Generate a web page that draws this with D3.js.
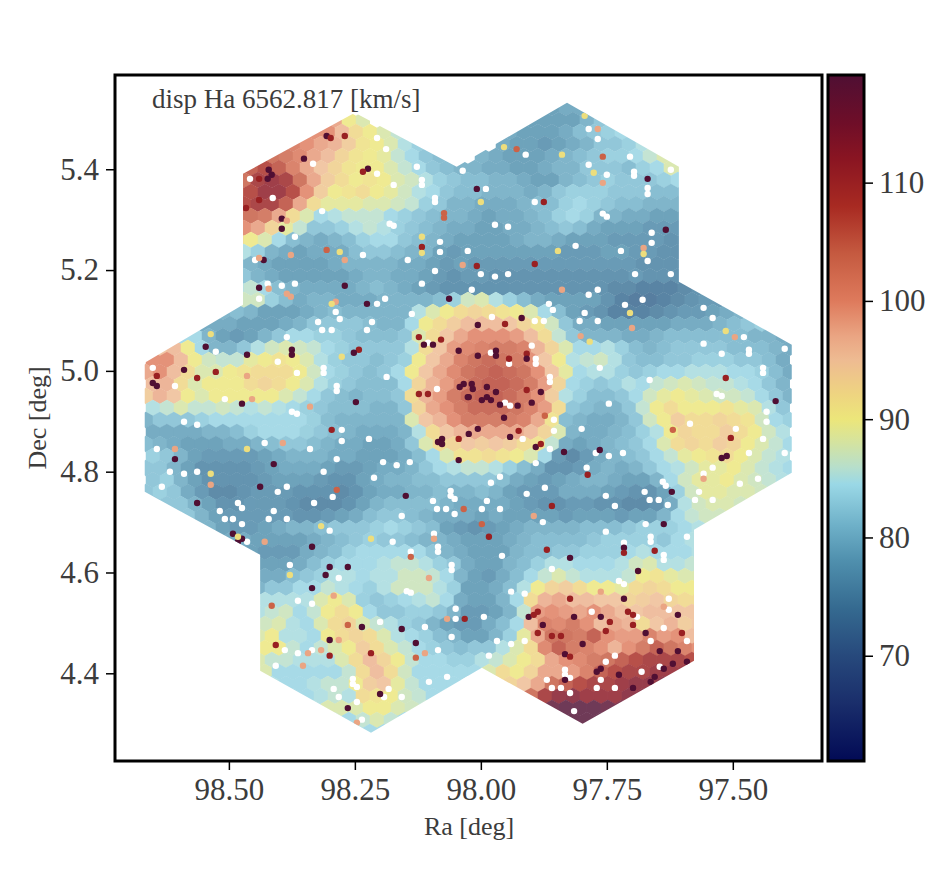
<!DOCTYPE html>
<html lang="en">

<head>
    <meta charset="UTF-8">
    <title>disp Ha 6562.817</title>
    <script src="https://cdn.jsdelivr.net/npm/d3@7"></script>
    <style>
        body { margin: 0; background: #fff; }
        svg { display: block; }
        text { font-family: "Liberation Serif", serif; fill: #3c3c3c; }
    </style>
</head>

<body>
    <script>
        // axis ranges and ticks
        const raDomain = [98.726, 97.323];
        const decDomain = [4.226, 5.587];
        const dispDomain = [61.1, 119.1];
        const raTicks = [98.5, 98.25, 98.0, 97.75, 97.5];
        const decTicks = [4.4, 4.6, 4.8, 5.0, 5.2, 5.4];
        const dispTicks = [70, 80, 90, 100, 110];

        // colour map
        const cmapValues = [61.1, 66, 70, 74, 78, 81, 84.5, 86, 88, 90, 92, 95, 97, 100, 104, 108, 112, 115, 119.1];
        const cmapColors = ["#020a55", "#1a2e6b", "#27497c", "#356a90", "#4f8fad", "#6eb0c8", "#9ad8e6", "#b8dfca", "#d4e3a0", "#ece67a", "#eed580", "#eebb92", "#eaa583", "#de7a5c", "#c55a40", "#a82a22", "#8a1522", "#6f0e28", "#4f0f33"];

        // outline of the seven pointing mosaic
        const footRa = [98.25, 98.472, 98.472, 98.667, 98.667, 98.438, 98.438, 98.218, 97.998, 97.798, 97.577, 97.577, 97.383, 97.383, 97.607, 97.607, 97.829, 98.048];
        const footDec = [5.512, 5.391, 5.131, 5.016, 4.76, 4.635, 4.405, 4.282, 4.411, 4.3, 4.425, 4.685, 4.798, 5.052, 5.177, 5.405, 5.532, 5.405];

        // binned dispersion map, one list per row of the hex grid, north to south (0 = no data)
        const gridRa0 = 98.6647;
        const gridDec0 = 5.5218;
        const gridRaStep = 0.02778;
        const gridDecStep = 0.02381;
        const rowStart = [29, 13, 12, 10, 9, 7, 7, 6, 7, 6, 7, 6, 7, 6, 7, 6, 7, 5, 4, 2, 1, 0, 0, 0, 0, 0, 0, 0, 0, 0, 0, 0, 0, 0, 2, 3, 5, 6, 8, 7, 8, 7, 8, 7, 8, 7, 8, 8, 9, 10, 12, 13, 15];
        const dispRows = [
            [78, 79, 79],
            [98, 90, 88, 0, 0, 0, 0, 0, 0, 0, 0, 0, 0, 0, 78, 78, 78, 78, 80, 82],
            [100, 100, 96, 92, 90, 88, 86, 0, 0, 0, 0, 0, 0, 0, 79, 78, 78, 78, 79, 81, 82, 83, 84],
            [102, 100, 98, 97, 94, 91, 90, 88, 85, 83, 0, 0, 0, 0, 0, 79, 78, 78, 77, 78, 79, 80, 82, 82, 83, 85],
            [104, 103, 101, 98, 96, 93, 91, 90, 89, 86, 84, 82, 81, 0, 0, 80, 79, 78, 78, 78, 79, 80, 81, 82, 83, 83, 84, 86, 88],
            [106, 108, 106, 102, 98, 95, 93, 91, 90, 90, 88, 86, 84, 82, 81, 80, 80, 79, 79, 78, 78, 79, 80, 80, 82, 82, 82, 81, 83, 84, 88, 88],
            [104, 110, 112, 110, 104, 98, 94, 92, 90, 91, 90, 88, 87, 85, 83, 82, 81, 81, 80, 80, 79, 78, 78, 80, 81, 82, 83, 82, 82, 82, 83, 84],
            [106, 108, 112, 112, 108, 100, 94, 90, 91, 92, 90, 89, 87, 85, 84, 82, 81, 81, 80, 80, 80, 79, 80, 82, 83, 83, 83, 82, 82, 82, 81, 81, 81],
            [108, 110, 110, 106, 98, 92, 89, 89, 89, 88, 88, 87, 86, 83, 82, 80, 80, 79, 79, 79, 80, 81, 81, 83, 84, 83, 82, 81, 81, 80, 80, 80],
            [104, 104, 103, 98, 92, 88, 84, 85, 86, 86, 86, 84, 83, 82, 81, 80, 80, 79, 78, 79, 79, 80, 81, 83, 84, 83, 80, 80, 79, 79, 78, 78, 78],
            [100, 98, 93, 89, 86, 82, 82, 83, 85, 86, 85, 83, 82, 81, 80, 79, 79, 78, 78, 79, 79, 80, 81, 82, 81, 79, 78, 78, 78, 77, 77, 77],
            [92, 90, 88, 84, 81, 80, 79, 80, 81, 83, 84, 84, 82, 81, 80, 79, 78, 78, 78, 78, 79, 80, 80, 79, 78, 78, 78, 77, 77, 77, 77, 76, 76],
            [85, 83, 80, 79, 78, 79, 79, 79, 81, 82, 82, 81, 80, 80, 78, 77, 78, 78, 78, 78, 78, 78, 78, 77, 77, 77, 78, 78, 77, 77, 76, 76],
            [81, 80, 79, 78, 78, 78, 78, 79, 80, 80, 80, 80, 79, 79, 78, 77, 78, 77, 77, 77, 77, 77, 77, 77, 77, 77, 77, 77, 77, 76, 76, 76, 76],
            [82, 80, 79, 78, 78, 78, 78, 78, 79, 80, 80, 79, 79, 78, 77, 76, 77, 77, 76, 76, 76, 76, 76, 76, 76, 76, 76, 76, 77, 76, 76, 76],
            [85, 86, 84, 81, 80, 79, 79, 79, 79, 80, 81, 80, 79, 78, 77, 76, 76, 76, 76, 76, 76, 76, 76, 76, 76, 76, 76, 75, 75, 74, 74, 74, 75, 76],
            [87, 87, 83, 81, 79, 80, 80, 79, 79, 79, 80, 80, 80, 80, 81, 83, 87, 88, 85, 83, 81, 79, 78, 78, 78, 78, 76, 74, 73, 73, 74, 75, 76, 77, 77],
            [80, 81, 80, 78, 78, 78, 79, 80, 81, 80, 80, 80, 80, 80, 85, 88, 90, 92, 93, 92, 91, 90, 88, 84, 81, 78, 77, 76, 74, 74, 74, 75, 76, 77, 77, 78, 79, 80],
            [79, 79, 79, 78, 78, 78, 79, 80, 82, 82, 82, 82, 81, 80, 80, 84, 90, 92, 94, 96, 96, 96, 95, 93, 91, 87, 82, 79, 79, 78, 78, 78, 78, 78, 79, 79, 79, 80, 81, 82, 83],
            [84, 84, 80, 78, 77, 78, 80, 82, 84, 84, 83, 83, 82, 81, 81, 81, 82, 88, 92, 95, 98, 100, 100, 100, 99, 96, 92, 86, 82, 80, 80, 80, 79, 79, 80, 81, 81, 81, 81, 81, 81, 80, 80, 79],
            [95, 96, 90, 84, 80, 80, 82, 85, 87, 88, 87, 86, 84, 83, 82, 82, 82, 82, 85, 92, 95, 99, 101, 102, 103, 103, 102, 97, 93, 88, 84, 84, 85, 83, 81, 80, 81, 82, 82, 82, 82, 81, 81, 81, 80, 79],
            [100, 100, 96, 90, 87, 86, 86, 89, 90, 91, 90, 88, 85, 83, 82, 82, 81, 82, 83, 90, 95, 98, 102, 104, 105, 104, 103, 100, 95, 90, 85, 86, 87, 85, 82, 81, 81, 82, 82, 83, 83, 83, 82, 82, 81, 79],
            [98, 100, 96, 92, 88, 88, 90, 91, 92, 92, 92, 90, 87, 84, 83, 82, 81, 82, 84, 90, 95, 98, 101, 104, 105, 106, 105, 104, 100, 95, 89, 84, 85, 85, 83, 82, 83, 84, 84, 85, 85, 85, 84, 84, 83, 81, 79],
            [96, 97, 92, 88, 90, 90, 90, 92, 93, 92, 90, 88, 85, 83, 82, 81, 81, 81, 84, 93, 97, 99, 102, 105, 106, 106, 105, 103, 99, 93, 84, 83, 82, 83, 85, 84, 86, 87, 88, 87, 86, 86, 85, 84, 82, 80],
            [94, 97, 95, 90, 88, 90, 90, 90, 90, 90, 88, 86, 84, 82, 81, 80, 81, 81, 82, 92, 97, 99, 103, 105, 106, 106, 105, 103, 100, 94, 85, 83, 81, 81, 82, 84, 87, 89, 90, 89, 88, 87, 87, 86, 84, 82, 80],
            [85, 86, 88, 86, 86, 87, 86, 85, 86, 85, 84, 83, 82, 81, 81, 81, 80, 80, 82, 93, 98, 100, 103, 105, 105, 105, 104, 102, 99, 92, 82, 81, 80, 80, 82, 86, 90, 92, 90, 90, 90, 91, 89, 88, 85, 82],
            [80, 82, 82, 82, 83, 84, 84, 84, 84, 84, 84, 84, 83, 81, 80, 80, 80, 80, 80, 88, 95, 97, 100, 103, 103, 103, 103, 102, 98, 91, 81, 80, 79, 79, 80, 82, 87, 90, 94, 92, 92, 93, 92, 91, 87, 84, 83],
            [79, 79, 79, 79, 80, 80, 81, 83, 84, 84, 84, 83, 82, 81, 80, 79, 79, 79, 80, 85, 92, 95, 97, 98, 98, 98, 98, 96, 93, 88, 80, 79, 79, 80, 81, 83, 85, 90, 93, 92, 92, 94, 92, 90, 87, 85],
            [81, 80, 79, 78, 78, 78, 79, 79, 80, 81, 82, 82, 81, 80, 79, 79, 78, 78, 79, 82, 88, 92, 93, 95, 94, 95, 94, 92, 91, 86, 79, 78, 79, 80, 81, 82, 84, 88, 92, 93, 92, 94, 93, 90, 88, 86, 84],
            [83, 82, 80, 78, 77, 77, 77, 77, 78, 79, 80, 80, 80, 79, 79, 78, 78, 78, 79, 81, 84, 88, 91, 91, 92, 91, 90, 88, 84, 77, 75, 77, 79, 80, 81, 82, 84, 86, 89, 90, 91, 92, 90, 88, 86, 85],
            [82, 82, 80, 78, 76, 76, 76, 76, 77, 78, 79, 79, 79, 78, 77, 77, 78, 79, 79, 80, 82, 84, 85, 86, 86, 85, 83, 81, 79, 76, 76, 77, 79, 80, 79, 80, 82, 84, 85, 87, 89, 89, 90, 88, 86, 85, 84],
            [82, 83, 80, 78, 76, 76, 76, 76, 77, 78, 78, 78, 77, 76, 76, 78, 79, 80, 80, 81, 81, 82, 82, 82, 82, 81, 79, 78, 77, 78, 79, 80, 80, 79, 78, 78, 80, 84, 87, 89, 89, 90, 88, 87, 86, 85],
            [82, 83, 82, 79, 77, 75, 75, 76, 77, 77, 77, 76, 76, 76, 75, 76, 78, 79, 79, 80, 80, 81, 80, 80, 81, 80, 78, 77, 77, 77, 79, 79, 79, 78, 77, 76, 76, 78, 83, 87, 89, 89, 88, 88, 87, 86],
            [81, 82, 82, 80, 78, 76, 76, 77, 77, 77, 76, 75, 75, 75, 76, 78, 80, 81, 81, 81, 81, 80, 79, 79, 79, 79, 78, 77, 76, 76, 77, 77, 76, 76, 75, 75, 76, 79, 85, 87, 88, 88, 87, 86],
            [81, 82, 80, 78, 77, 77, 77, 77, 77, 76, 76, 77, 78, 79, 81, 82, 82, 81, 80, 79, 79, 79, 78, 79, 78, 78, 78, 78, 77, 78, 78, 78, 77, 78, 78, 80, 84, 86, 87, 87, 86],
            [80, 80, 78, 77, 77, 78, 79, 80, 80, 81, 82, 82, 82, 83, 84, 83, 82, 81, 78, 77, 76, 77, 78, 79, 80, 80, 80, 80, 81, 81, 81, 82, 83, 83, 83, 84, 85, 86],
            [79, 79, 79, 78, 78, 78, 78, 79, 80, 81, 82, 83, 82, 82, 81, 80, 80, 79, 78, 78, 78, 79, 80, 81, 81, 81, 81, 82, 83, 83, 83, 83, 82, 84, 85],
            [78, 78, 77, 77, 77, 79, 80, 81, 83, 84, 84, 84, 84, 84, 82, 80, 79, 78, 78, 78, 80, 81, 81, 82, 82, 83, 83, 83, 84, 85, 84, 84, 84, 85],
            [78, 78, 78, 79, 81, 83, 84, 84, 84, 85, 86, 86, 85, 83, 82, 79, 78, 78, 80, 81, 83, 85, 85, 84, 84, 84, 85, 87, 88, 85, 85, 86],
            [79, 79, 79, 81, 82, 83, 85, 85, 84, 85, 85, 87, 87, 86, 84, 80, 78, 77, 79, 81, 84, 86, 88, 86, 85, 85, 85, 86, 90, 91, 89, 88, 88],
            [80, 82, 82, 84, 84, 86, 85, 84, 83, 85, 87, 87, 87, 85, 83, 78, 78, 79, 81, 85, 90, 93, 94, 92, 90, 90, 89, 92, 93, 92, 90, 90],
            [83, 85, 85, 85, 85, 88, 90, 88, 83, 82, 83, 84, 85, 86, 84, 79, 78, 78, 80, 84, 92, 97, 98, 96, 96, 95, 95, 93, 94, 95, 93, 92, 92],
            [85, 86, 87, 84, 86, 90, 92, 90, 84, 82, 82, 83, 83, 82, 80, 77, 77, 78, 80, 86, 99, 100, 99, 98, 100, 98, 96, 95, 96, 96, 95, 95],
            [85, 87, 88, 85, 84, 88, 92, 93, 88, 86, 85, 83, 82, 80, 78, 77, 77, 79, 81, 84, 96, 102, 101, 103, 100, 96, 98, 97, 92, 95, 97, 94, 95],
            [88, 90, 85, 85, 84, 90, 92, 93, 92, 88, 85, 84, 83, 81, 80, 78, 78, 80, 83, 89, 98, 104, 104, 103, 106, 100, 99, 99, 102, 99, 100, 96],
            [90, 90, 90, 86, 84, 86, 88, 90, 94, 92, 88, 86, 84, 83, 82, 81, 82, 82, 85, 88, 92, 101, 106, 103, 102, 100, 97, 100, 103, 106, 104, 102, 100],
            [88, 86, 86, 85, 85, 85, 88, 92, 96, 93, 90, 86, 84, 84, 83, 83, 85, 86, 88, 90, 92, 98, 100, 101, 103, 104, 106, 108, 110, 110, 110, 108],
            [88, 84, 84, 84, 84, 84, 86, 92, 96, 92, 87, 84, 84, 84, 84, 84, 88, 92, 90, 93, 98, 98, 99, 102, 106, 108, 110, 110, 112, 112, 112],
            [85, 84, 84, 85, 86, 86, 90, 94, 95, 89, 86, 84, 84, 84, 0, 0, 0, 93, 95, 98, 104, 106, 108, 110, 110, 112, 113, 113, 114],
            [84, 84, 85, 86, 85, 92, 91, 90, 87, 86, 84, 84, 0, 0, 0, 0, 100, 104, 110, 113, 114, 112, 112, 112, 114, 114],
            [85, 88, 88, 88, 90, 90, 88, 87, 86, 0, 0, 0, 0, 0, 0, 0, 115, 118, 119, 119, 119, 118, 116],
            [87, 84, 86, 88, 86, 84, 0, 0, 0, 0, 0, 0, 0, 0, 0, 0, 119, 119, 119, 119],
            [84, 84, 84]
        ];

        // single deviant spaxels that stand out of the map
        const spotRa = [98.306, 98.298, 98.27, 98.351, 98.421, 98.415, 98.423, 98.44, 98.44, 98.466, 98.224, 98.234, 98.395, 98.385, 98.395, 98.431, 98.44, 98.377, 98.306, 98.27, 98.28, 98.27, 98.44, 98.421, 98.226, 98.288, 98.296, 98.385, 98.377, 98.073, 98.073, 98.117, 98.117, 98.117, 98.063, 98.036, 98.123, 98.113, 98.095, 98.079, 98.044, 98.242, 98.252, 98.276, 98.375, 98.375, 98.464, 98.546, 98.536, 98.589, 98.526, 98.563, 98.643, 98.651, 98.643, 98.474, 98.454, 98.464, 98.248, 98.339, 98.123, 98.105, 98.042, 98.034, 98.024, 98.016,
            97.929, 97.954, 98.008, 98, 97.875, 97.839, 97.758, 97.768, 97.794, 97.776, 97.758, 97.669, 97.633, 97.677, 97.677, 97.847, 97.893, 98.008, 97.839, 97.704, 97.7, 97.802, 97.784, 97.514, 97.496, 97.514, 97.415, 97.919, 98.006, 97.97, 97.97, 98.006, 97.909, 97.909, 97.944, 98.018, 97.988, 97.97, 97.909, 97.881, 98.026, 97.988, 97.98, 97.998, 97.899, 97.927, 97.962, 97.954, 97.873, 97.952,
            98.296, 98.393, 98.607, 98.464, 98.607, 98.411, 98.536, 98.536, 98.438, 98.563, 98.286, 98.149, 98.077, 98.085, 98.077, 98.044, 98.044, 98.024, 98.034, 98.492, 98.474, 98.482, 98.482, 98.429, 98.335, 98.317, 98.3, 98.264, 98.308, 98.335, 98.379, 98.292, 98.415, 98.264, 98.236, 98.157, 98.3, 98.407, 98.129, 98.218, 98.3, 98.129, 98.111, 98.2, 98.264, 98.032, 98.067, 98.093, 98.139, 98.103, 98.218, 98.353, 98.343, 98.317, 98.282, 98.246,
            98.006, 97.942, 97.925, 97.891, 97.881, 97.835, 97.764, 97.619, 97.504, 97.522, 97.512, 97.558, 97.788, 97.621, 97.859, 97.895, 97.998, 97.984, 97.637, 97.869, 97.823, 97.716, 97.716, 97.655, 97.688, 97.716, 97.823, 97.905, 97.895, 97.887, 97.815, 97.762, 97.609, 97.708, 97.698, 97.744, 97.877, 97.698, 97.752, 97.673, 97.601, 97.859, 97.887, 97.841, 97.798, 97.833, 97.823, 97.609, 97.645, 97.591, 97.619, 97.637, 97.655, 97.762, 97.77, 97.726, 97.833, 97.663, 97.698, 97.762, 97.637];
        const spotDec = [5.466, 5.462, 5.466, 5.421, 5.399, 5.389, 5.381, 5.381, 5.339, 5.323, 5.401, 5.395, 5.302, 5.298, 5.282, 5.22, 5.224, 5.23, 5.24, 5.22, 5.236, 5.169, 5.165, 5.163, 5.133, 5.137, 5.133, 5.153, 5.147, 5.313, 5.304, 5.246, 5.266, 5.234, 5.143, 5.21, 5.067, 5.052, 5.052, 5.062, 5.04, 5.042, 5.036, 5.028, 5.042, 5.032, 5.032, 5.048, 5.073, 5.002, 4.998, 4.986, 4.99, 4.976, 4.97, 4.935, 4.944, 4.99, 4.938, 4.929, 4.954, 4.954, 4.968, 4.974, 4.948, 4.964,
            5.44, 5.444, 5.361, 5.335, 5.335, 5.429, 5.425, 5.48, 5.506, 5.393, 5.373, 5.381, 5.28, 5.244, 5.232, 5.238, 5.212, 5.208, 5.161, 5.115, 5.085, 5.069, 5.058, 5.079, 5.067, 4.986, 4.94, 5.105, 5.091, 5.04, 5.03, 5.03, 5.034, 5.024, 5.024, 4.974, 4.968, 4.958, 4.962, 4.958, 4.948, 4.948, 4.942, 4.942, 4.937, 4.931, 4.933, 4.907, 4.911, 5.093,
            4.883, 4.857, 4.845, 4.845, 4.825, 4.815, 4.796, 4.774, 4.77, 4.738, 4.764, 4.752, 4.865, 4.859, 4.855, 4.865, 4.823, 4.875, 4.726, 4.677, 4.667, 4.661, 4.671, 4.661, 4.651, 4.692, 4.611, 4.611, 4.595, 4.569, 4.595, 4.554, 4.534, 4.496, 4.492, 4.488, 4.466, 4.456, 4.46, 4.44, 4.435, 4.431, 4.44, 4.359, 4.331, 4.508, 4.508, 4.667, 4.631, 4.589, 4.667, 4.415, 4.44, 4.446, 4.466, 4.302,
            4.885, 4.869, 4.881, 4.849, 4.855, 4.839, 4.843, 4.883, 4.867, 4.827, 4.831, 4.786, 4.794, 4.76, 4.732, 4.712, 4.696, 4.671, 4.696, 4.645, 4.629, 4.649, 4.639, 4.643, 4.603, 4.548, 4.548, 4.512, 4.516, 4.522, 4.512, 4.512, 4.516, 4.522, 4.516, 4.502, 4.496, 4.496, 4.484, 4.48, 4.48, 4.474, 4.48, 4.474, 4.458, 4.438, 4.433, 4.444, 4.444, 4.423, 4.419, 4.409, 4.393, 4.409, 4.403, 4.397, 4.387, 4.383, 4.371, 4.562, 4.532];
        const spotDisp = [119, 110, 110, 119, 119, 119, 119, 110, 110, 110, 119, 110, 119, 97, 119, 119, 97, 97, 103, 97, 91, 119, 119, 97, 119, 97, 91, 97, 97, 103, 103, 110, 91, 91, 119, 97, 110, 119, 119, 110, 119, 110, 119, 91, 119, 119, 119, 119, 91, 119, 110, 110, 110, 119, 119, 119, 97, 97, 119, 97, 110, 110, 119, 119, 119, 119,
            103, 91, 119, 91, 110, 91, 103, 97, 91, 91, 97, 119, 119, 97, 91, 91, 110, 110, 97, 91, 97, 97, 91, 91, 97, 110, 119, 119, 119, 119, 119, 119, 110, 119, 110, 119, 119, 119, 110, 119, 119, 119, 119, 119, 119, 119, 119, 119, 103, 110,
            110, 97, 97, 91, 119, 119, 91, 97, 119, 119, 103, 119, 119, 119, 119, 110, 119, 119, 103, 119, 119, 119, 91, 97, 119, 91, 119, 119, 119, 119, 91, 97, 103, 103, 119, 119, 119, 110, 119, 110, 110, 103, 97, 119, 119, 110, 97, 97, 103, 97, 91, 97, 97, 97, 97, 97,
            119, 119, 110, 119, 110, 119, 119, 103, 110, 119, 119, 97, 110, 119, 110, 97, 103, 110, 119, 110, 119, 119, 110, 110, 119, 119, 110, 119, 110, 110, 119, 119, 119, 110, 110, 110, 119, 110, 110, 119, 110, 110, 110, 110, 119, 119, 110, 119, 119, 119, 119, 119, 119, 119, 119, 119, 119, 119, 119, 97, 97];

        // spaxels with no fit, left white
        const nanRa = [98.458, 98.413, 98.333, 98.206, 98.188, 98.127, 98.206, 98.117, 98.117, 98.173, 98.091, 98.091, 98.315, 98.181, 98.173, 98.369, 98.081, 98.081, 98.145, 98.234, 98.091, 98.448, 98.395, 98.369, 98.423, 98.44, 98.117, 98.206, 98.19, 98.137, 98.288, 98.28, 98.323, 98.216, 98.226, 98.315, 98.296, 98.385, 98.526, 98.651, 98.607, 98.508, 98.403, 98.365, 98.312, 98.312, 98.187, 98.286, 98.286, 98.375, 98.365, 98.087, 98.036, 98.105,
            97.786, 97.768, 97.911, 97.786, 97.704, 97.696, 97.696, 97.75, 97.623, 97.669, 97.669, 97.893, 97.99, 97.758, 97.75, 97.972, 97.946, 97.661, 97.661, 97.722, 97.812, 98.026, 97.669, 98, 97.972, 97.946, 97.694, 97.623, 98.018, 97.768, 97.786, 97.865, 97.857, 97.714, 97.679, 97.794, 97.804, 97.768, 97.875, 97.893, 97.978, 97.558, 97.54, 97.558, 97.478, 97.468, 97.468, 97.397, 97.522, 97.44, 97.44, 97.764, 97.899, 97.891, 97.891, 97.944, 97.98, 97.863, 97.863, 97.665, 97.532, 97.522, 97.746, 97.433, 97.952, 97.942,
            98.589, 98.563, 98.643, 98.617, 98.589, 98.563, 98.633, 98.429, 98.339, 98.276, 98.276, 98.222, 98.286, 98.312, 98.194, 98.167, 98.141, 98.403, 98.385, 98.331, 98.294, 98.482, 98.474, 98.518, 98.508, 98.492, 98.474, 98.411, 98.421, 98.385, 98.464, 98.3, 98.175, 98.157, 98.087, 98.069, 98.052, 98.06, 98.06, 98.052, 98.095, 98.212, 98.093, 98.085, 98.085, 98.139, 98.058, 98.058, 98.147, 98.139, 98.379, 98.282, 98.363, 98.335, 98.2, 98.111, 98.05, 98.05, 98.058, 98.085, 98.389, 98.363, 98.335, 98.407, 98.254, 98.254, 98.246, 98.292, 98.282, 98.183, 98.192, 98.157, 98.103, 98.067, 98.236, 98.246,
            97.855, 97.855, 97.8, 97.917, 97.863, 97.772, 97.746, 97.718, 97.891, 97.79, 97.962, 97.98, 97.873, 97.909, 97.988, 97.998, 97.962, 97.877, 97.752, 97.734, 97.675, 97.665, 97.647, 97.629, 97.639, 97.633, 97.575, 97.54, 97.567, 97.54, 97.558, 97.486, 97.45, 97.468, 97.494, 97.585, 97.397, 97.44, 97.433, 97.673, 97.752, 97.591, 97.663, 97.663, 97.716, 97.637, 97.637, 97.958, 97.859, 97.726, 97.716, 97.94, 97.913, 97.627, 97.627, 97.994, 97.78, 97.69, 97.637, 97.968, 97.94, 97.913, 97.663, 97.591, 97.984, 97.734, 97.752, 97.645, 97.681, 97.833, 97.833, 97.823, 97.762, 97.869, 97.859, 97.841, 97.823, 97.77, 97.734, 97.815];
        const nanDec = [5.381, 5.343, 5.411, 5.462, 5.44, 5.405, 5.391, 5.379, 5.369, 5.369, 5.343, 5.335, 5.317, 5.292, 5.288, 5.266, 5.256, 5.236, 5.22, 5.23, 5.198, 5.22, 5.169, 5.173, 5.173, 5.143, 5.173, 5.133, 5.143, 5.113, 5.117, 5.103, 5.097, 5.097, 5.081, 5.081, 5.081, 5.067, 5.038, 5.006, 4.97, 4.944, 5.018, 4.996, 5.006, 4.996, 4.988, 4.97, 4.96, 4.919, 4.915, 4.964, 5.397, 5.056,
            5.48, 5.46, 5.429, 5.409, 5.425, 5.395, 5.387, 5.389, 5.399, 5.363, 5.351, 5.335, 5.361, 5.312, 5.306, 5.29, 5.286, 5.274, 5.254, 5.238, 5.248, 5.238, 5.218, 5.192, 5.187, 5.192, 5.192, 5.192, 5.161, 5.161, 5.151, 5.133, 5.121, 5.131, 5.141, 5.115, 5.099, 5.099, 5.099, 5.099, 5.107, 5.125, 5.105, 5.054, 5.067, 5.042, 5.034, 5.044, 5.034, 5.006, 4.996, 5.006, 5.05, 5.024, 5.014, 5.014, 5.036, 4.988, 4.978, 4.982, 4.954, 4.95, 4.935, 4.919, 4.937, 4.931,
            4.899, 4.893, 4.845, 4.8, 4.796, 4.8, 4.77, 4.857, 4.845, 4.883, 4.861, 4.865, 4.825, 4.8, 4.819, 4.813, 4.819, 4.76, 4.77, 4.738, 4.75, 4.738, 4.728, 4.722, 4.706, 4.706, 4.696, 4.722, 4.706, 4.706, 4.661, 4.683, 4.661, 4.712, 4.726, 4.726, 4.716, 4.762, 4.752, 4.746, 4.742, 4.788, 4.677, 4.651, 4.641, 4.641, 4.615, 4.605, 4.563, 4.56, 4.615, 4.589, 4.544, 4.538, 4.502, 4.492, 4.528, 4.508, 4.472, 4.446, 4.446, 4.44, 4.446, 4.415, 4.389, 4.379, 4.373, 4.369, 4.353, 4.369, 4.353, 4.353, 4.383, 4.393, 4.308, 4.343,
            4.903, 4.881, 4.885, 4.865, 4.845, 4.837, 4.831, 4.837, 4.817, 4.808, 4.79, 4.778, 4.768, 4.756, 4.742, 4.726, 4.726, 4.7, 4.752, 4.732, 4.76, 4.744, 4.744, 4.734, 4.78, 4.772, 4.744, 4.744, 4.76, 4.808, 4.796, 4.776, 4.786, 4.837, 4.885, 4.895, 4.837, 4.865, 4.899, 4.696, 4.681, 4.671, 4.671, 4.661, 4.659, 4.635, 4.625, 4.633, 4.607, 4.583, 4.577, 4.562, 4.558, 4.548, 4.526, 4.512, 4.522, 4.512, 4.49, 4.464, 4.458, 4.464, 4.464, 4.464, 4.435, 4.435, 4.423, 4.413, 4.403, 4.407, 4.397, 4.391, 4.387, 4.387, 4.371, 4.371, 4.361, 4.371, 4.371, 4.325];

        const width = 942;
        const height = 892;
        const plot = { left: 115, right: 822, top: 75, bottom: 761 };
        const bar = { left: 828, right: 864 };

        const svg = d3.select("body").append("svg")
            .attr("width", width)
            .attr("height", height);

        const x = d3.scaleLinear().domain(raDomain).range([plot.left, plot.right]);
        const y = d3.scaleLinear().domain(decDomain).range([plot.bottom, plot.top]);
        const c = d3.scaleLinear().domain(dispDomain).range([plot.bottom, plot.top]);
        const color = d3.scaleLinear().domain(cmapValues).range(cmapColors).clamp(true);

        // clip everything to the mosaic outline
        svg.append("clipPath")
            .attr("id", "mosaic")
            .append("polygon")
            .attr("points", footRa.map((ra, i) => `${x(ra)},${y(footDec[i])}`).join(" "));

        const map = svg.append("g").attr("clip-path", "url(#mosaic)");

        // flatten the rows into cells
        let cells = [];
        dispRows.forEach(function(row, i) {
            row.forEach(function(v, k) {
                if (v === 0) return;
                const col = rowStart[i] + k;
                cells.push({
                    ra: gridRa0 - (col + (i % 2) / 2) * gridRaStep,
                    dec: gridDec0 - i * gridDecStep,
                    disp: v
                });
            });
        });

        const hexRadius = Math.abs(x(0) - x(gridRaStep)) / Math.sqrt(3) + 0.15;
        const hexPath = d3.range(6).map(function(k) {
            const a = Math.PI / 3 * k + Math.PI / 6;
            return [hexRadius * Math.cos(a), hexRadius * Math.sin(a)];
        });

        // the original spaxels have white gaps, so the whole layer reads paler than the bar
        const cellLayer = map.append("g").attr("opacity", 0.82);

        cellLayer.selectAll(".cell")
            .data(cells)
            .enter()
            .append("path")
            .attr("class", "cell")
            .attr("d", d => "M" + hexPath.map(p => `${x(d.ra) + p[0]},${y(d.dec) + p[1]}`).join("L") + "Z")
            .attr("fill", d => color(d.disp));

        map.selectAll(".nan")
            .data(nanRa.map((ra, i) => ({ ra: ra, dec: nanDec[i] })))
            .enter()
            .append("circle")
            .attr("class", "nan")
            .attr("cx", d => x(d.ra))
            .attr("cy", d => y(d.dec))
            .attr("r", 3.2)
            .attr("fill", "#fff");

        map.selectAll(".spot")
            .data(spotRa.map((ra, i) => ({ ra: ra, dec: spotDec[i], disp: spotDisp[i] })))
            .enter()
            .append("circle")
            .attr("class", "spot")
            .attr("cx", d => x(d.ra))
            .attr("cy", d => y(d.dec))
            .attr("r", 3.2)
            .attr("fill", d => color(d.disp));

        // colour bar
        const gradient = svg.append("defs").append("linearGradient")
            .attr("id", "cbar")
            .attr("x1", 0).attr("x2", 0).attr("y1", 1).attr("y2", 0);
        gradient.selectAll("stop")
            .data(cmapValues)
            .enter()
            .append("stop")
            .attr("offset", d => (d - dispDomain[0]) / (dispDomain[1] - dispDomain[0]))
            .attr("stop-color", d => color(d));

        svg.append("rect")
            .attr("x", bar.left)
            .attr("y", plot.top)
            .attr("width", bar.right - bar.left)
            .attr("height", plot.bottom - plot.top)
            .attr("fill", "url(#cbar)")
            .attr("stroke", "#000")
            .attr("stroke-width", 3);

        // axes
        const xAxis = svg.append("g")
            .attr("transform", `translate(0,${plot.bottom})`)
            .call(d3.axisBottom(x).tickValues(raTicks).tickFormat(d3.format(".2f")).tickSize(9).tickPadding(8));
        const yAxis = svg.append("g")
            .attr("transform", `translate(${plot.left},0)`)
            .call(d3.axisLeft(y).tickValues(decTicks).tickFormat(d3.format(".1f")).tickSize(9).tickPadding(7));
        const cAxis = svg.append("g")
            .attr("transform", `translate(${bar.right},0)`)
            .call(d3.axisRight(c).tickValues(dispTicks).tickFormat(d3.format("d")).tickSize(9).tickPadding(6));

        [xAxis, yAxis, cAxis].forEach(function(axis) {
            axis.select(".domain").remove();
            axis.selectAll("line").attr("stroke", "#000").attr("stroke-width", 1.5);
            axis.selectAll("text").style("font-size", "31px").style("font-family", "Liberation Serif").style("fill", "#3c3c3c");
        });

        svg.append("rect")
            .attr("x", plot.left)
            .attr("y", plot.top)
            .attr("width", plot.right - plot.left)
            .attr("height", plot.bottom - plot.top)
            .attr("fill", "none")
            .attr("stroke", "#000")
            .attr("stroke-width", 3);

        // labels
        svg.append("text")
            .attr("x", 469)
            .attr("y", 835)
            .attr("text-anchor", "middle")
            .style("font-size", "26px")
            .text("Ra [deg]");

        svg.append("text")
            .attr("transform", "translate(46,418) rotate(-90)")
            .attr("text-anchor", "middle")
            .style("font-size", "26px")
            .text("Dec [deg]");

        svg.append("text")
            .attr("x", 152)
            .attr("y", 108)
            .style("font-size", "27px")
            .text("disp Ha 6562.817 [km/s]");
    </script>
</body>

</html>
